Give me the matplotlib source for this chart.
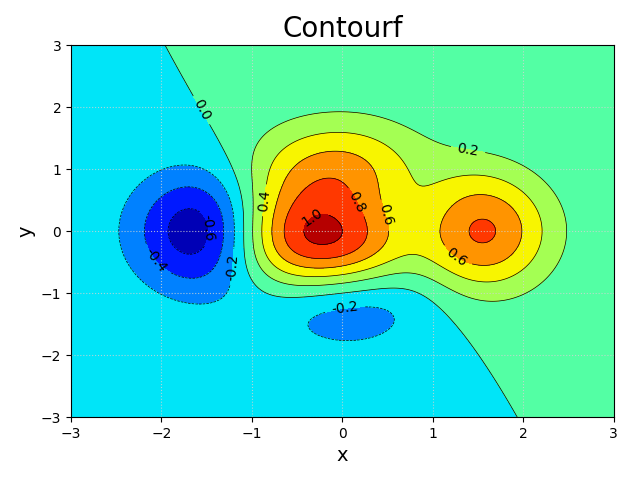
import matplotlib
matplotlib.use('Agg')
import matplotlib.pyplot as plt
import numpy as np

# surface: f(x,y) = (1 - x/2 + x^5 + y^3) * exp(-x^2 - y^2)
n = 256
x_range = [-3, 3]
y_range = [-3, 3]
levels = [-0.8, -0.6, -0.4, -0.2, 0.0, 0.2, 0.4, 0.6, 0.8, 1.0, 1.2]

# where the contour labels sit in the reference
label_pos = [(-1.56, 1.95), (1.39, 1.32), (-0.88, 0.50), (0.48, 0.26),
             (1.27, -0.40), (0.16, 0.47), (-0.34, 0.23), (-1.22, -0.58),
             (0.03, -1.23), (-2.07, -0.47), (-1.46, 0.05)]

def f(x, y):
    return (1 - x / 2 + x**5 + y**3) * np.exp(-x**2 - y**2)

x = np.linspace(x_range[0], x_range[1], n)
y = np.linspace(y_range[0], y_range[1], n)
X, Y = np.meshgrid(x, y)
Z = f(X, Y)

fig, ax = plt.subplots(figsize=(6.4, 4.8), dpi=100)
ax.contourf(X, Y, Z, levels, cmap='jet')
C = ax.contour(X, Y, Z, levels, colors='black', linewidths=0.5)
# plain hyphen in the contour labels, like the reference
ax.clabel(C, inline=True, fontsize=10, manual=label_pos,
          fmt=lambda v: '%.1f' % (0.0 if abs(v) < 1e-9 else v))

ax.grid(True, linestyle=':', color='lightgray', alpha=0.8)
ax.set_title('Contourf', fontsize=20)
ax.set_xlabel('x', fontsize=14)
ax.set_ylabel('y', fontsize=14)
ax.set_xticks([-3, -2, -1, 0, 1, 2, 3])
ax.set_yticks([-3, -2, -1, 0, 1, 2, 3])

fig.subplots_adjust(left=0.111, right=0.959, top=0.906, bottom=0.131)
fig.savefig('out.png')
